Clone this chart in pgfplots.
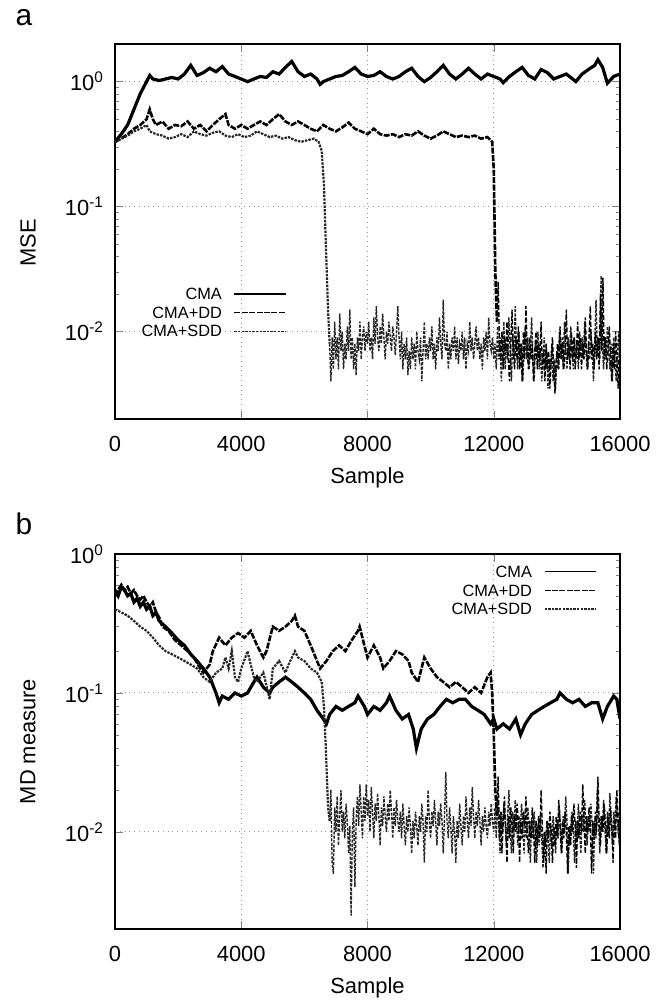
\documentclass[border=0pt]{standalone}
\usepackage{fontspec}
\setmainfont{Liberation Sans}
\usepackage{pgfplots}
\pgfplotsset{compat=1.18}
\pgfplotsset{
  every axis/.append style={
    scale only axis, width=252.5bp, height=187.5bp,
    xmin=0, xmax=16000,
    scaled x ticks=false,
    xtick={0,4000,8000,12000,16000},
    xticklabels={0,4000,8000,12000,16000},
    tick label style={font=\fontsize{11}{13}\selectfont},
    xticklabel style={yshift=-5bp},
    yticklabel style={xshift=-2bp},
    label style={font=\fontsize{11}{13}\selectfont},
    xlabel style={yshift=-1bp},
    grid=major, major grid style={dotted, gray!80, line width=0.5bp},
    axis line style={line width=0.8bp},
    major tick length=4bp, minor tick length=2bp,
    xlabel={Sample},
    legend cell align=right, legend plot pos=right,
  },
  every axis legend/.append style={draw=none, fill=none, inner sep=0pt, outer sep=0pt,
      font=\fontsize{8.2}{9}\selectfont, row sep=3.5bp, column sep=6bp,
      nodes={inner sep=0pt, text height=5.8bp, text depth=0bp}},
  legend image code/.code={\draw[#1, line width=0.6bp] (0bp,0bp) -- (25.8bp,0bp);},
  cma/.style={black, line width=1.6bp},
  dd/.style={black, line width=1.3bp, dash pattern=on 3bp off 0.7bp},
  sdd/.style={black!85, line width=1.1bp, dash pattern=on 1.2bp off 0.6bp},
  ddn/.style={black, line width=0.7bp, dash pattern=on 2.5bp off 1bp},
  sddn/.style={black!85, line width=0.7bp, dash pattern=on 1.5bp off 0.7bp},
}
\begin{document}
\begin{tikzpicture}
\useasboundingbox (0,0) rectangle (334.5bp,-504bp);
\node[font=\fontsize{15}{16}\selectfont, anchor=center] at (12bp,-9bp) {a};
\node[font=\fontsize{15}{16}\selectfont, anchor=center] at (12bp,-262bp) {b};
% ---------------- panel a ----------------
\begin{axis}[at={(57.5bp,-22bp)}, anchor=north west,
  ymode=log, ymin=0.002, ymax=2,
  ytick={0.01,0.1,1},
  yticklabels={10\textsuperscript{-2},10\textsuperscript{-1},10\textsuperscript{0}},
  ylabel={MSE},
  ylabel style={at={(rel axis cs:0,0.47)}, anchor=center, yshift=43.5bp},
  legend style={at={(0.34,0.349)}, anchor=north east},
]
\addplot[cma] coordinates {
(0,0.33) (200,0.38) (400,0.45) (600,0.6) (800,0.8) (1000,1.0) (1100,1.12) (1200,1.05) (1400,1.02) (1600,1.05) (1800,1.08) (2000,1.05) (2200,1.15) (2400,1.35) (2600,1.12) (2800,1.18) (3000,1.28) (3200,1.2) (3400,1.32) (3600,1.15) (3800,1.1) (4000,1.05) (4200,1.0) (4400,1.05) (4600,1.1) (4800,1.08) (5000,1.2) (5200,1.15) (5400,1.3) (5600,1.45) (5800,1.2) (6000,1.1) (6200,1.15) (6400,1.05) (6500,0.95) (6600,1.0) (6800,1.05) (7000,1.1) (7200,1.12) (7400,1.2) (7600,1.3) (7800,1.15) (8000,1.1) (8200,1.12) (8400,1.2) (8600,1.1) (8800,1.05) (9000,1.1) (9200,1.2) (9400,1.28) (9600,1.1) (9800,1.0) (10000,1.08) (10200,1.2) (10400,1.35) (10600,1.15) (10800,1.05) (11000,1.15) (11200,1.28) (11400,1.15) (11600,1.05) (11800,1.15) (12000,1.1) (12200,1.05) (12300,0.98) (12500,1.1) (12700,1.2) (12900,1.3) (13100,1.12) (13300,1.05) (13500,1.25) (13700,1.18) (13900,1.05) (14100,1.1) (14300,1.15) (14500,1.05) (14600,1.0) (14800,1.15) (15000,1.25) (15200,1.35) (15300,1.5) (15450,1.3) (15600,0.97) (15800,1.1) (16000,1.15)};
\addlegendentry{CMA}
\addplot[dd] coordinates {
(0,0.33) (200,0.35) (400,0.38) (600,0.42) (800,0.45) (1000,0.5) (1100,0.6) (1200,0.5) (1300,0.45) (1500,0.48) (1700,0.42) (1900,0.45) (2100,0.44) (2300,0.48) (2500,0.42) (2700,0.45) (2900,0.4) (3100,0.45) (3300,0.5) (3500,0.55) (3600,0.45) (3800,0.42) (4000,0.45) (4200,0.42) (4400,0.45) (4600,0.48) (4800,0.45) (5000,0.5) (5200,0.55) (5400,0.48) (5600,0.45) (5800,0.48) (6000,0.45) (6200,0.42) (6400,0.4) (6600,0.45) (6800,0.42) (7000,0.4) (7200,0.43) (7400,0.47) (7600,0.42) (7800,0.4) (8000,0.38) (8200,0.42) (8400,0.38) (8600,0.37) (8800,0.38) (9000,0.36) (9200,0.38) (9400,0.37) (9600,0.4) (9800,0.37) (10000,0.35) (10200,0.37) (10400,0.4) (10600,0.38) (10800,0.36) (11000,0.37) (11200,0.36) (11400,0.37) (11600,0.35) (11800,0.36) (11950,0.33) (12000,0.2) (12050,0.03) (12100,0.012)};
\addlegendentry{CMA+DD}
\addplot[sdd] coordinates {
(0,0.33) (200,0.35) (400,0.37) (600,0.4) (800,0.42) (1000,0.45) (1100,0.4) (1300,0.38) (1500,0.37) (1700,0.35) (1900,0.36) (2100,0.38) (2300,0.36) (2500,0.4) (2700,0.38) (2900,0.37) (3100,0.39) (3300,0.4) (3500,0.37) (3700,0.36) (3900,0.38) (4100,0.36) (4300,0.37) (4500,0.4) (4700,0.38) (4900,0.36) (5100,0.37) (5300,0.35) (5500,0.36) (5700,0.34) (5900,0.33) (6100,0.34) (6300,0.35) (6450,0.33) (6550,0.28) (6620,0.15) (6680,0.05) (6750,0.015) (6800,0.008)};
\addlegendentry{CMA+SDD}
\addplot[sddn, forget plot] coordinates {
(6800,0.008) (6840,0.004) (6880,0.009) (6920,0.005) (6960,0.012) (7000,0.006) (7040,0.009) (7080,0.005) (7120,0.014) (7160,0.007) (7200,0.01) (7240,0.005) (7280,0.008) (7320,0.006) (7360,0.011) (7400,0.007) (7440,0.015) (7480,0.006) (7520,0.009) (7560,0.005) (7600,0.008) (7640,0.0045) (7680,0.009) (7720,0.007) (7760,0.012) (7800,0.006) (7840,0.009) (7880,0.011) (7920,0.007) (7960,0.01) (8000,0.008) (8040,0.012) (8080,0.007) (8120,0.009) (8160,0.006) (8200,0.013) (8240,0.008) (8280,0.016) (8320,0.009) (8360,0.007) (8400,0.011) (8440,0.008) (8480,0.014) (8520,0.009) (8560,0.006) (8600,0.01) (8640,0.008) (8680,0.012) (8720,0.009) (8760,0.007) (8800,0.011) (8840,0.009) (8880,0.0065) (8920,0.01) (8960,0.016) (9000,0.009) (9040,0.006) (9080,0.01) (9120,0.005) (9160,0.008) (9200,0.006) (9240,0.009) (9280,0.0045) (9320,0.007) (9360,0.005) (9400,0.009) (9440,0.006) (9480,0.008) (9520,0.005) (9560,0.01) (9600,0.007) (9640,0.006) (9680,0.009) (9720,0.004) (9760,0.007) (9800,0.012) (9840,0.006) (9880,0.008) (9920,0.006) (9960,0.009) (10000,0.007) (10040,0.011) (10080,0.006) (10120,0.008) (10160,0.005) (10200,0.009) (10240,0.007) (10280,0.013) (10320,0.008) (10360,0.006) (10400,0.018) (10440,0.008) (10480,0.007) (10520,0.01) (10560,0.005) (10600,0.008) (10640,0.006) (10680,0.009) (10720,0.007) (10760,0.011) (10800,0.006) (10840,0.009) (10880,0.0055) (10920,0.008) (10960,0.007) (11000,0.01) (11040,0.006) (11080,0.009) (11120,0.005) (11160,0.008) (11200,0.007) (11240,0.012) (11280,0.007) (11320,0.009) (11360,0.006) (11400,0.008) (11440,0.011) (11480,0.007) (11520,0.009) (11560,0.006) (11600,0.008) (11640,0.005) (11680,0.009) (11720,0.007) (11760,0.01) (11800,0.006) (11840,0.013) (11880,0.008) (11920,0.007) (11960,0.009) (12000,0.006) (12040,0.008) (12080,0.005) (12120,0.011) (12160,0.006) (12200,0.009) (12240,0.004) (12280,0.007) (12320,0.012) (12360,0.005) (12400,0.008) (12440,0.006) (12480,0.013) (12520,0.007) (12560,0.004) (12600,0.009) (12640,0.006) (12680,0.016) (12720,0.007) (12760,0.005) (12800,0.01) (12840,0.006) (12880,0.008) (12920,0.004) (12960,0.007) (13000,0.011) (13040,0.006) (13080,0.009) (13120,0.005) (13160,0.007) (13200,0.013) (13240,0.006) (13280,0.004) (13320,0.008) (13360,0.006) (13400,0.01) (13440,0.005) (13480,0.007) (13520,0.004) (13560,0.006) (13600,0.009) (13640,0.005) (13680,0.007) (13720,0.0035) (13760,0.006) (13800,0.005) (13840,0.008) (13880,0.004) (13920,0.006) (13960,0.0035) (14000,0.007) (14040,0.005) (14080,0.01) (14120,0.006) (14160,0.008) (14200,0.005) (14240,0.012) (14280,0.007) (14320,0.005) (14360,0.009) (14400,0.006) (14440,0.011) (14480,0.007) (14520,0.005) (14560,0.009) (14600,0.006) (14640,0.008) (14680,0.005) (14720,0.01) (14760,0.007) (14800,0.009) (14840,0.006) (14880,0.012) (14920,0.007) (14960,0.005) (15000,0.008) (15040,0.006) (15080,0.01) (15120,0.007) (15160,0.004) (15200,0.008) (15240,0.018) (15280,0.007) (15320,0.009) (15360,0.006) (15400,0.028) (15440,0.008) (15480,0.005) (15520,0.009) (15560,0.006) (15600,0.011) (15640,0.007) (15680,0.005) (15720,0.008) (15760,0.004) (15800,0.009) (15840,0.006) (15880,0.004) (15920,0.007) (15960,0.01) (16000,0.006)};
\addplot[ddn, forget plot] coordinates {
(12100,0.012) (12140,0.025) (12180,0.008) (12220,0.006) (12260,0.01) (12300,0.005) (12340,0.009) (12380,0.007) (12420,0.012) (12460,0.006) (12500,0.004) (12540,0.008) (12580,0.015) (12620,0.007) (12660,0.005) (12700,0.009) (12740,0.006) (12780,0.011) (12820,0.005) (12860,0.008) (12900,0.004) (12940,0.01) (12980,0.006) (13020,0.016) (13060,0.007) (13100,0.005) (13140,0.009) (13180,0.006) (13220,0.008) (13260,0.004) (13300,0.007) (13340,0.01) (13380,0.005) (13420,0.008) (13460,0.006) (13500,0.012) (13540,0.005) (13580,0.007) (13620,0.004) (13660,0.008) (13700,0.005) (13740,0.007) (13780,0.0035) (13820,0.006) (13860,0.009) (13900,0.005) (13940,0.0032) (13980,0.006) (14020,0.008) (14060,0.005) (14100,0.011) (14140,0.006) (14180,0.009) (14220,0.005) (14260,0.007) (14300,0.015) (14340,0.006) (14380,0.008) (14420,0.005) (14460,0.01) (14500,0.006) (14540,0.009) (14580,0.005) (14620,0.007) (14660,0.012) (14700,0.006) (14740,0.009) (14780,0.005) (14820,0.008) (14860,0.006) (14900,0.013) (14940,0.007) (14980,0.005) (15020,0.009) (15060,0.016) (15100,0.006) (15140,0.008) (15180,0.005) (15220,0.01) (15260,0.006) (15300,0.009) (15340,0.005) (15380,0.02) (15420,0.007) (15460,0.027) (15500,0.006) (15540,0.009) (15580,0.005) (15620,0.007) (15660,0.011) (15700,0.006) (15740,0.004) (15780,0.008) (15820,0.005) (15860,0.01) (15900,0.006) (15940,0.0035) (15980,0.008) (16000,0.012)};
\end{axis}
% ---------------- panel b ----------------
\begin{axis}[at={(57.5bp,-277bp)}, anchor=north west,
  ymode=log, ymin=0.002, ymax=1,
  ytick={0.01,0.1,1},
  yticklabels={10\textsuperscript{-2},10\textsuperscript{-1},10\textsuperscript{0}},
  ylabel={MD measure},
  ylabel style={at={(rel axis cs:0,0.5)}, anchor=center, yshift=43.5bp},
  legend style={at={(0.954,0.968)}, anchor=north east},
]
\addplot[cma] coordinates {
(0,0.55) (100,0.5) (200,0.58) (300,0.55) (400,0.5) (500,0.52) (600,0.45) (700,0.48) (800,0.42) (900,0.45) (1000,0.4) (1100,0.42) (1200,0.36) (1300,0.38) (1400,0.33) (1600,0.3) (1800,0.27) (2000,0.24) (2200,0.22) (2400,0.19) (2600,0.17) (2800,0.15) (3000,0.13) (3200,0.1) (3300,0.085) (3400,0.095) (3600,0.09) (3800,0.1) (4000,0.095) (4200,0.1) (4400,0.12) (4500,0.13) (4700,0.11) (4900,0.1) (5000,0.11) (5200,0.12) (5400,0.13) (5600,0.12) (5800,0.11) (6000,0.1) (6200,0.09) (6400,0.075) (6600,0.065) (6700,0.06) (6800,0.07) (7000,0.08) (7200,0.075) (7400,0.08) (7600,0.085) (7700,0.095) (7900,0.08) (8000,0.07) (8200,0.08) (8400,0.075) (8600,0.085) (8700,0.095) (8900,0.075) (9100,0.065) (9300,0.07) (9450,0.055) (9550,0.04) (9700,0.055) (9900,0.065) (10100,0.07) (10300,0.08) (10500,0.09) (10700,0.085) (10900,0.09) (11100,0.09) (11300,0.08) (11500,0.075) (11700,0.07) (11900,0.06) (12000,0.065) (12100,0.055) (12300,0.06) (12500,0.055) (12700,0.065) (12850,0.05) (13000,0.06) (13200,0.07) (13400,0.075) (13600,0.08) (13800,0.085) (14000,0.09) (14100,0.1) (14300,0.09) (14500,0.085) (14700,0.09) (14900,0.08) (15100,0.085) (15300,0.085) (15450,0.065) (15600,0.08) (15800,0.095) (15900,0.09) (16000,0.065)};
\addlegendentry{CMA}
\addplot[dd] coordinates {
(0,0.5) (100,0.55) (200,0.6) (300,0.55) (400,0.58) (500,0.52) (600,0.55) (700,0.5) (800,0.47) (900,0.5) (1000,0.45) (1100,0.42) (1200,0.45) (1300,0.38) (1400,0.35) (1500,0.3) (1700,0.28) (1900,0.24) (2100,0.22) (2300,0.2) (2500,0.18) (2700,0.15) (2800,0.14) (3000,0.16) (3100,0.2) (3300,0.25) (3500,0.22) (3700,0.25) (3900,0.27) (4100,0.25) (4300,0.28) (4500,0.22) (4700,0.18) (4800,0.2) (5000,0.3) (5200,0.28) (5400,0.3) (5600,0.33) (5700,0.36) (5800,0.3) (6000,0.28) (6200,0.22) (6400,0.17) (6500,0.15) (6700,0.17) (6900,0.2) (7100,0.22) (7300,0.2) (7500,0.24) (7700,0.28) (7750,0.3) (7900,0.22) (8000,0.18) (8200,0.22) (8400,0.18) (8500,0.15) (8700,0.17) (8900,0.2) (9100,0.19) (9300,0.17) (9400,0.14) (9600,0.12) (9800,0.18) (10000,0.15) (10200,0.13) (10400,0.12) (10600,0.11) (10800,0.12) (11000,0.11) (11200,0.1) (11400,0.11) (11600,0.1) (11800,0.13) (11900,0.14) (11950,0.1) (12000,0.05) (12050,0.02) (12100,0.013)};
\addlegendentry{CMA+DD}
\addplot[sdd] coordinates {
(0,0.4) (200,0.38) (400,0.36) (600,0.33) (800,0.3) (1000,0.28) (1200,0.25) (1400,0.22) (1600,0.2) (1800,0.19) (2000,0.18) (2200,0.17) (2400,0.16) (2600,0.15) (2800,0.13) (3000,0.12) (3200,0.14) (3400,0.15) (3500,0.18) (3600,0.15) (3700,0.2) (3800,0.13) (3900,0.12) (4000,0.15) (4200,0.2) (4300,0.16) (4400,0.13) (4500,0.12) (4700,0.14) (4900,0.09) (5000,0.15) (5200,0.17) (5400,0.14) (5500,0.16) (5700,0.2) (5800,0.18) (6000,0.17) (6200,0.15) (6400,0.14) (6550,0.12) (6620,0.08) (6680,0.04) (6750,0.015) (6800,0.012)};
\addlegendentry{CMA+SDD}
\addplot[sddn, forget plot] coordinates {
(6800,0.012) (6840,0.02) (6880,0.006) (6920,0.005) (6960,0.015) (7000,0.01) (7040,0.018) (7080,0.008) (7120,0.013) (7160,0.02) (7200,0.01) (7240,0.014) (7280,0.009) (7320,0.016) (7360,0.012) (7400,0.007) (7440,0.011) (7480,0.0025) (7520,0.01) (7560,0.015) (7600,0.004) (7640,0.012) (7680,0.018) (7720,0.011) (7760,0.022) (7800,0.014) (7840,0.009) (7880,0.018) (7920,0.012) (7960,0.022) (8000,0.013) (8040,0.017) (8080,0.01) (8120,0.021) (8160,0.014) (8200,0.009) (8240,0.016) (8280,0.012) (8320,0.019) (8360,0.013) (8400,0.008) (8440,0.015) (8480,0.011) (8520,0.018) (8560,0.013) (8600,0.01) (8640,0.016) (8680,0.012) (8720,0.02) (8760,0.014) (8800,0.009) (8840,0.015) (8880,0.011) (8920,0.017) (8960,0.012) (9000,0.01) (9040,0.014) (9080,0.009) (9120,0.016) (9160,0.011) (9200,0.008) (9240,0.013) (9280,0.01) (9320,0.015) (9360,0.011) (9400,0.007) (9440,0.012) (9480,0.009) (9520,0.014) (9560,0.011) (9600,0.008) (9640,0.013) (9680,0.01) (9720,0.016) (9760,0.012) (9800,0.006) (9840,0.013) (9880,0.01) (9920,0.02) (9960,0.012) (10000,0.009) (10040,0.014) (10080,0.011) (10120,0.017) (10160,0.012) (10200,0.008) (10240,0.014) (10280,0.011) (10320,0.016) (10360,0.012) (10400,0.007) (10440,0.013) (10480,0.027) (10520,0.012) (10560,0.009) (10600,0.015) (10640,0.011) (10680,0.007) (10720,0.013) (10760,0.01) (10800,0.006) (10840,0.012) (10880,0.009) (10920,0.016) (10960,0.011) (11000,0.008) (11040,0.013) (11080,0.01) (11120,0.018) (11160,0.012) (11200,0.009) (11240,0.015) (11280,0.011) (11320,0.021) (11360,0.013) (11400,0.009) (11440,0.014) (11480,0.011) (11520,0.017) (11560,0.012) (11600,0.008) (11640,0.013) (11680,0.01) (11720,0.015) (11760,0.011) (11800,0.009) (11840,0.014) (11880,0.011) (11920,0.016) (11960,0.012) (12000,0.01) (12040,0.015) (12080,0.009) (12120,0.018) (12160,0.011) (12200,0.007) (12240,0.014) (12280,0.01) (12320,0.016) (12360,0.012) (12400,0.008) (12440,0.013) (12480,0.02) (12520,0.011) (12560,0.007) (12600,0.014) (12640,0.01) (12680,0.017) (12720,0.012) (12760,0.008) (12800,0.013) (12840,0.01) (12880,0.016) (12920,0.011) (12960,0.007) (13000,0.013) (13040,0.009) (13080,0.015) (13120,0.011) (13160,0.006) (13200,0.012) (13240,0.009) (13280,0.014) (13320,0.01) (13360,0.006) (13400,0.011) (13440,0.008) (13480,0.013) (13520,0.009) (13560,0.0055) (13600,0.01) (13640,0.008) (13680,0.012) (13720,0.009) (13760,0.006) (13800,0.011) (13840,0.008) (13880,0.013) (13920,0.01) (13960,0.007) (14000,0.012) (14040,0.009) (14080,0.015) (14120,0.011) (14160,0.007) (14200,0.013) (14240,0.01) (14280,0.018) (14320,0.012) (14360,0.005) (14400,0.011) (14440,0.008) (14480,0.014) (14520,0.01) (14560,0.006) (14600,0.012) (14640,0.009) (14680,0.016) (14720,0.011) (14760,0.007) (14800,0.013) (14840,0.01) (14880,0.017) (14920,0.012) (14960,0.008) (15000,0.013) (15040,0.01) (15080,0.016) (15120,0.011) (15160,0.005) (15200,0.012) (15240,0.009) (15280,0.02) (15320,0.012) (15360,0.007) (15400,0.013) (15440,0.01) (15480,0.017) (15520,0.011) (15560,0.007) (15600,0.014) (15640,0.01) (15680,0.019) (15720,0.012) (15760,0.008) (15800,0.014) (15840,0.011) (15880,0.018) (15920,0.012) (15960,0.009) (16000,0.015)};
\addplot[ddn, forget plot] coordinates {
(12100,0.013) (12140,0.025) (12180,0.009) (12220,0.014) (12260,0.007) (12300,0.012) (12340,0.018) (12380,0.01) (12420,0.006) (12460,0.013) (12500,0.009) (12540,0.015) (12580,0.011) (12620,0.007) (12660,0.013) (12700,0.01) (12740,0.016) (12780,0.011) (12820,0.006) (12860,0.012) (12900,0.009) (12940,0.014) (12980,0.011) (13020,0.018) (13060,0.01) (13100,0.007) (13140,0.012) (13180,0.009) (13220,0.015) (13260,0.011) (13300,0.006) (13340,0.012) (13380,0.008) (13420,0.013) (13460,0.009) (13500,0.02) (13540,0.011) (13580,0.006) (13620,0.01) (13660,0.005) (13700,0.012) (13740,0.009) (13780,0.014) (13820,0.01) (13860,0.006) (13900,0.011) (13940,0.008) (13980,0.013) (14020,0.009) (14060,0.017) (14100,0.011) (14140,0.007) (14180,0.012) (14220,0.009) (14260,0.014) (14300,0.01) (14340,0.005) (14380,0.011) (14420,0.008) (14460,0.013) (14500,0.01) (14540,0.016) (14580,0.011) (14620,0.0055) (14660,0.012) (14700,0.009) (14740,0.014) (14780,0.01) (14820,0.022) (14860,0.012) (14900,0.007) (14940,0.013) (14980,0.01) (15020,0.015) (15060,0.011) (15100,0.005) (15140,0.012) (15180,0.009) (15220,0.014) (15260,0.01) (15300,0.025) (15340,0.012) (15380,0.008) (15420,0.013) (15460,0.01) (15500,0.016) (15540,0.011) (15580,0.007) (15620,0.013) (15660,0.009) (15700,0.015) (15740,0.011) (15780,0.006) (15820,0.012) (15860,0.009) (15900,0.02) (15940,0.012) (15980,0.008) (16000,0.025)};
\end{axis}
\end{tikzpicture}
\end{document}
